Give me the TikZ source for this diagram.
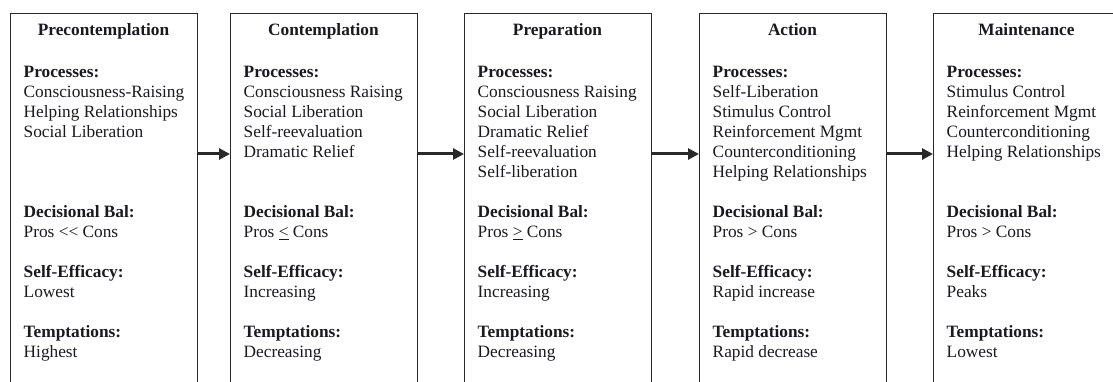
\documentclass[tikz,border=0pt]{standalone}
\usepackage{fontspec}
\setmainfont{Liberation Serif}
\usetikzlibrary{arrows.meta}

\definecolor{ink}{rgb}{0.10,0.10,0.13}
\definecolor{rule}{rgb}{0.16,0.16,0.16}

\tikzset{
  stagebox/.style={draw=rule, line width=1.3pt, rectangle, inner sep=0pt,
    minimum width=187pt, minimum height=400pt, anchor=north west},
  stagetitle/.style={inner sep=0pt, anchor=base, text=ink, font=\bfseries},
  fieldhead/.style={inner sep=0pt, anchor=base west, text=ink, font=\bfseries},
  fieldtext/.style={inner sep=0pt, anchor=base west, text=ink},
  flow/.style={draw=rule, line width=3pt, -{Triangle[length=11pt,width=11pt]}},
}

% One stage column: #1 name, #2 left edge, #3 title, #4 processes,
% #5 decisional balance, #6 self-efficacy, #7 temptations
\newcommand\stagecol[7]{%
  \node[stagebox] (#1) at (#2,13) {};
  \node[stagetitle] (#1-title) at (#2+93.5,36) {#3};
  \node[fieldhead] (#1-proc) at (#2+13.5,77.5) {Processes:};
  \foreach \entry [count=\i] in {#4}
    \node[fieldtext] (#1-proc\i) at (#2+13.5,77.5+20*\i) {\entry};
  \node[fieldhead] (#1-dech) at (#2+13.5,217.5) {Decisional Bal:};
  \node[fieldtext] (#1-dec) at (#2+13.5,237.5) {#5};
  \node[fieldhead] (#1-effh) at (#2+13.5,277.5) {Self-Efficacy:};
  \node[fieldtext] (#1-eff) at (#2+13.5,297.5) {#6};
  \node[fieldhead] (#1-temh) at (#2+13.5,337.5) {Temptations:};
  \node[fieldtext] (#1-tem) at (#2+13.5,357.5) {#7};
}

\begin{document}
\begin{tikzpicture}[x=1pt,y=-1pt]
  \useasboundingbox (0,0) rectangle (1113,382);
  \clip (0,0) rectangle (1113,382);
  \fontsize{17.3}{20}\selectfont

  \stagecol{pre}{10}{Precontemplation}
    {Consciousness-Raising,Helping Relationships,Social Liberation}
    {Pros <\kern0pt< Cons}{Lowest}{Highest}
  \stagecol{con}{230}{Contemplation}
    {Consciousness Raising,Social Liberation,Self-reevaluation,Dramatic Relief}
    {Pros \underline{<} Cons}{Increasing}{Decreasing}
  \stagecol{prep}{464}{Preparation}
    {Consciousness Raising,Social Liberation,Dramatic Relief,Self-reevaluation,Self-liberation}
    {Pros \underline{>} Cons}{Increasing}{Decreasing}
  \stagecol{act}{699}{Action}
    {Self-Liberation,Stimulus Control,Reinforcement Mgmt,Counterconditioning,Helping Relationships}
    {Pros > Cons}{Rapid increase}{Rapid decrease}
  \stagecol{main}{933}{Maintenance}
    {Stimulus Control,Reinforcement Mgmt,Counterconditioning,Helping Relationships}
    {Pros > Cons}{Peaks}{Lowest}

  % transitions between stages
  \coordinate (lane) at (0,154);
  \draw[flow] (pre.east |- lane) -- (con.west |- lane);
  \draw[flow] (con.east |- lane) -- (prep.west |- lane);
  \draw[flow] (prep.east |- lane) -- (act.west |- lane);
  \draw[flow] (act.east |- lane) -- (main.west |- lane);
\end{tikzpicture}
\end{document}
